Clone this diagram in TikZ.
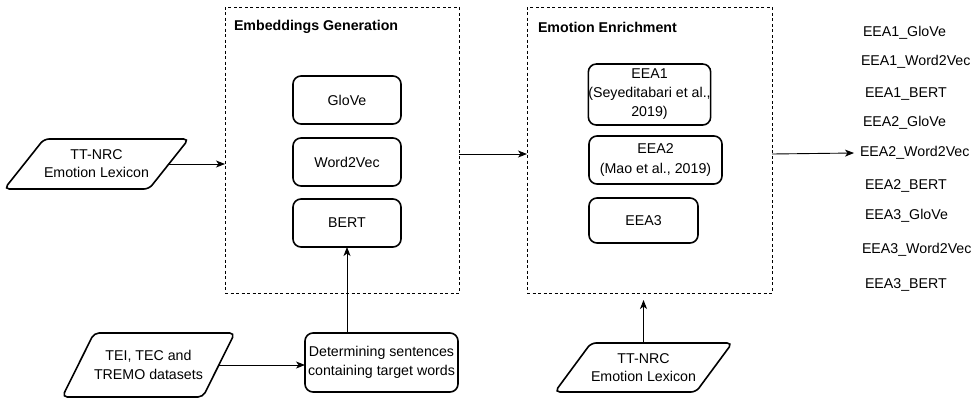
\documentclass[tikz,border=0pt]{standalone}
\usepackage{fontspec}
\setmainfont{Liberation Sans}
\usetikzlibrary{shapes.geometric,arrows.meta}
\begin{document}
\begin{tikzpicture}[x=1pt,y=-1pt,
  every node/.style={font=\fontsize{14.2}{19}\selectfont, inner sep=0pt, outer sep=0pt},
  proc/.style={draw, line width=1.6pt, rounded corners=8pt, align=center},
  para/.style={draw, line width=1.6pt, rounded corners=5pt, align=center,
    trapezium, trapezium stretches body=true},
  container/.style={draw, dashed, line width=0.8pt, dash pattern=on 3pt off 2.5pt},
  title/.style={font=\fontsize{14.2}{17}\selectfont\bfseries, anchor=west},
  outlabel/.style={anchor=west},
  flow/.style={line width=0.9pt, -{Stealth[length=9pt,width=7pt,inset=2.5pt]}}
]
\useasboundingbox (0,0) rectangle (977,400);

% containers
\node[container, minimum width=234, minimum height=286] (eg) at (342,150) {};
\node[title] (egt) at (234,27) {Embeddings Generation};
\node[container, minimum width=245, minimum height=286] (ee) at (649.5,150) {};
\node[title] (eet) at (538,27) {Emotion Enrichment};

% embedding models
\node[proc, minimum width=108, minimum height=48] (glove) at (347,100) {GloVe};
\node[proc, minimum width=108, minimum height=48] (w2v) at (347,162) {Word2Vec};
\node[proc, minimum width=108, minimum height=48] (bert) at (347,223) {BERT};

% enrichment approaches
\node[proc, minimum width=121, minimum height=61] (eea1) at (649.5,94.5)
  {EEA1\\(Seyeditabari et al.,\\2019)};
\node[proc, minimum width=133, minimum height=48, font=\fontsize{14.2}{20}\selectfont] (eea2) at (655.5,160)
  {EEA2\\(Mao et al., 2019)};
\node[proc, minimum width=109, minimum height=45] (eea3) at (643.5,220.5) {EEA3};

% inputs (parallelograms: height set through inner ysep so the slant keeps its angle)
\node[para, trapezium left angle=51, trapezium right angle=129, inner ysep=10.5pt,
  minimum width=173, minimum height=50, font=\fontsize{14.2}{18}\selectfont] (lex1) at (96.5,164)
  {TT-NRC\\Emotion Lexicon};
\node[para, trapezium left angle=63, trapezium right angle=117, inner ysep=16.5pt,
  minimum width=163, minimum height=64] (tei) at (148.5,365)
  {TEI, TEC and\\TREMO datasets};
\node[para, trapezium left angle=53, trapezium right angle=127, inner ysep=10pt,
  minimum width=173, minimum height=49, font=\fontsize{14.2}{18}\selectfont] (lex2) at (643.5,367.5)
  {TT-NRC\\Emotion Lexicon};
\node[proc, minimum width=153, minimum height=59] (det) at (381.5,362.5)
  {Determining sentences\\containing target words};

% outputs
\node[outlabel] (o1) at (863,33) {EEA1\_GloVe};
\node[outlabel] (o2) at (861,62) {EEA1\_Word2Vec};
\node[outlabel] (o3) at (865,94) {EEA1\_BERT};
\node[outlabel] (o4) at (863,123) {EEA2\_GloVe};
\node[outlabel] (o5) at (860,153) {EEA2\_Word2Vec};
\node[outlabel] (o6) at (865,186) {EEA2\_BERT};
\node[outlabel] (o7) at (865,216) {EEA3\_GloVe};
\node[outlabel] (o8) at (862,250) {EEA3\_Word2Vec};
\node[outlabel] (o9) at (865,285) {EEA3\_BERT};

% connectors
\draw[flow] (lex1.east) -- (lex1.east -| eg.west);
\draw[flow] ([yshift=-4pt]eg.east) -- ([yshift=-4pt]ee.west);
\draw[flow] ([yshift=-4pt]ee.east) -- ([xshift=-6pt]o5.west);
\draw[flow] (tei.east) -- (tei.east -| det.west);
\draw[flow] (bert.south |- det.north) -- (bert.south);
\draw[flow, shorten >=7pt] (lex2.north) -- (lex2.north |- ee.south);
\end{tikzpicture}
\end{document}
